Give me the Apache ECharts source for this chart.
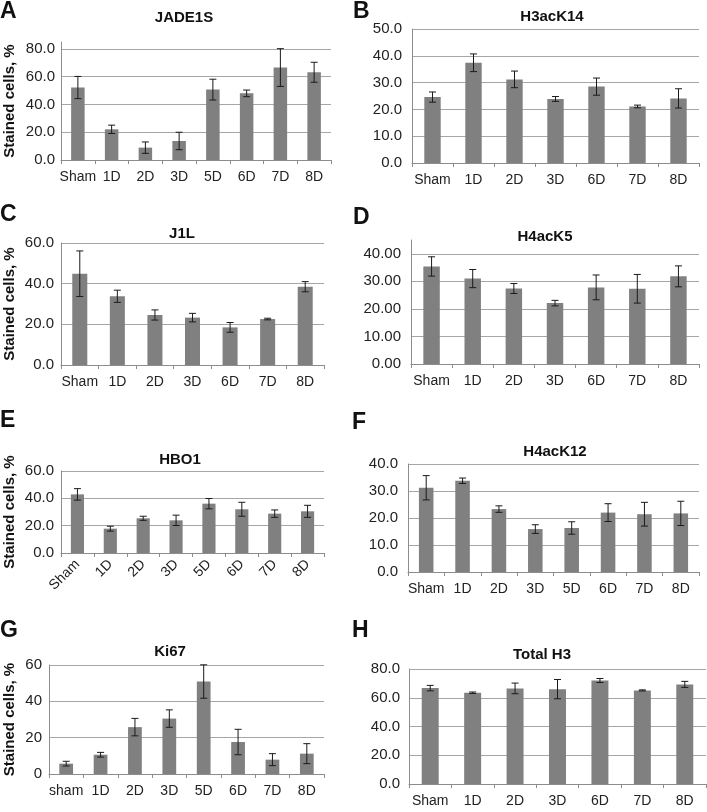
<!DOCTYPE html>
<html>
<head>
<meta charset="utf-8">
<script src="https://cdn.jsdelivr.net/npm/echarts@6/dist/echarts.min.js"></script>
<style>
html,body{margin:0;padding:0;background:#fff;}
#chart{width:707px;height:812px;}
</style>
</head>
<body>
<div id="chart"></div>
<script>
// ---------- data ----------
const catsA = ['Sham','1D','2D','3D','5D','6D','7D','8D'];
const meanA = [52.2, 22.1, 8.9, 13.7, 50.7, 48.0, 66.6, 63.2];
const errA  = [8.0, 3.0, 4.1, 6.3, 7.5, 2.4, 13.6, 7.2];
const ticksA = [0, 20, 40, 60, 80];

const catsB = ['Sham','1D','2D','3D','6D','7D','8D'];
const meanB = [24.6, 37.4, 31.2, 23.9, 28.5, 21.1, 24.1];
const errB  = [1.9, 3.3, 3.1, 0.9, 3.2, 0.5, 3.6];
const ticksB = [0, 10, 20, 30, 40, 50];

const catsC = ['Sham','1D','2D','3D','6D','7D','8D'];
const meanC = [44.9, 33.8, 24.6, 23.3, 18.5, 22.6, 38.5];
const errC  = [11.2, 3.0, 2.5, 2.1, 2.4, 0.4, 2.5];
const ticksC = [0, 20, 40, 60];

const catsD = ['Sham','1D','2D','3D','6D','7D','8D'];
const meanD = [35.4, 31.0, 27.4, 22.1, 27.8, 27.3, 31.8];
const errD  = [3.5, 3.3, 1.8, 1.0, 4.5, 5.2, 3.8];
const ticksD = [0, 10, 20, 30, 40];

const catsE = ['Sham','1D','2D','3D','5D','6D','7D','8D'];
const meanE = [42.9, 17.8, 25.4, 23.9, 36.1, 32.0, 28.8, 30.5];
const errE  = [4.2, 1.8, 1.5, 3.8, 3.8, 5.1, 2.7, 4.4];
const ticksE = [0, 20, 40, 60];

const catsF = ['Sham','1D','2D','3D','5D','6D','7D','8D'];
const meanF = [31.2, 33.8, 23.3, 15.9, 16.3, 22.0, 21.4, 21.7];
const errF  = [4.5, 1.0, 1.2, 1.6, 2.3, 3.3, 4.4, 4.5];
const ticksF = [0, 10, 20, 30, 40];

const catsG = ['sham','1D','2D','3D','5D','6D','7D','8D'];
const meanG = [5.7, 10.6, 25.8, 30.5, 50.9, 17.6, 7.9, 11.2];
const errG  = [1.3, 1.3, 4.8, 4.8, 9.2, 7.0, 3.3, 5.5];
const ticksG = [0, 20, 40, 60];

const catsH = ['Sham','1D','2D','3D','6D','7D','8D'];
const meanH = [66.7, 63.5, 66.5, 66.0, 72.0, 65.1, 69.3];
const errH  = [1.9, 0.5, 3.7, 6.7, 1.4, 0.4, 2.1];
const ticksH = [0, 20, 40, 60, 80];

const titles  = ['JADE1S','H3acK14','J1L','H4acK5','HBO1','H4acK12','Ki67','Total H3'];
const letters = ['A','B','C','D','E','F','G','H'];
const yName = 'Stained cells, %';

// ---------- layout ----------
const FONT = '"Liberation Sans", Arial, sans-serif';
const panels = [
  {cats:catsA, mean:meanA, err:errA, ticks:ticksA, max:85, dec:1, grid:{left:61, top:42, width:270, height:118}, lm:6, yname:true, gap:44, title:[184,18], letter:[0,0]},
  {cats:catsB, mean:meanB, err:errB, ticks:ticksB, dec:1, grid:{left:412, top:29, width:287, height:134}, lm:10, title:[552,17], letter:[353,0]},
  {cats:catsC, mean:meanC, err:errC, ticks:ticksC, dec:1, grid:{left:61, top:243, width:263, height:122}, lm:7, yname:true, gap:44, title:[182,234], letter:[0,203]},
  {cats:catsD, mean:meanD, err:errD, ticks:ticksD, max:45, dec:2, grid:{left:411, top:240, width:288, height:124}, lm:10, title:[545,237], letter:[353,206]},
  {cats:catsE, mean:meanE, err:errE, ticks:ticksE, dec:1, grid:{left:61, top:471, width:263, height:82}, lm:7, yname:true, gap:44, rot:45, title:[180,460], letter:[0,409]},
  {cats:catsF, mean:meanF, err:errF, ticks:ticksF, dec:1, grid:{left:408, top:464, width:291, height:108}, lm:10, title:[555,452], letter:[352,411]},
  {cats:catsG, mean:meanG, err:errG, ticks:ticksG, dec:0, grid:{left:49, top:665, width:275, height:109}, lm:7, yname:true, gap:32, title:[170,652], letter:[0,619]},
  {cats:catsH, mean:meanH, err:errH, ticks:ticksH, dec:1, grid:{left:409, top:669, width:297, height:115}, lm:9, title:[542,655], letter:[352,619]}
];

const grids = [], xAxes = [], yAxes = [], series = [], graphics = [];

function renderErr(params, api) {
  const i = api.value(0), v = api.value(1), e = api.value(2);
  const t = api.coord([i, v + e]);
  const b = api.coord([i, v - e]);
  const hw = 3.5;
  const st = {stroke:'#1a1a1a', lineWidth:1};
  return {type:'group', children:[
    {type:'line', shape:{x1:t[0], y1:t[1], x2:b[0], y2:b[1]}, style:st},
    {type:'line', shape:{x1:t[0]-hw, y1:t[1], x2:t[0]+hw, y2:t[1]}, style:st},
    {type:'line', shape:{x1:b[0]-hw, y1:b[1], x2:b[0]+hw, y2:b[1]}, style:st}
  ]};
}

panels.forEach((p, k) => {
  grids.push(Object.assign({outerBoundsMode:'none', containLabel:false}, p.grid));
  const interval = p.ticks[1] - p.ticks[0];
  const max = p.max !== undefined ? p.max : p.ticks[p.ticks.length - 1];
  xAxes.push({
    type:'category', gridIndex:k, data:p.cats, boundaryGap:true,
    axisLine:{show:true, lineStyle:{color:'#8c8c8c', width:1}},
    axisTick:{show:true, length:4, alignWithLabel:false, lineStyle:{color:'#8c8c8c'}},
    axisLabel:{color:'#222', fontSize:14, fontFamily:FONT, margin:p.rot ? 9 : 10, rotate:p.rot || 0, interval:0},
    splitLine:{show:false}
  });
  yAxes.push({
    type:'value', gridIndex:k, min:p.ticks[0], max:max, interval:interval,
    axisLine:{show:true, lineStyle:{color:'#8c8c8c', width:1}},
    axisTick:{show:false},
    axisLabel:{color:'#222', fontSize:15, fontFamily:FONT, margin:p.lm, showMaxLabel: p.max === undefined,
      formatter:(v) => v.toFixed(p.dec)},
    splitLine:{show:true, showMinLine:false, showMaxLine: p.max === undefined, lineStyle:{color:'#a6a6a6', width:1}},
    name: p.yname ? yName : '', nameLocation:'middle', nameRotate:90, nameGap:p.gap || 40,
    nameTextStyle:{color:'#111', fontSize:15, fontWeight:'bold', fontFamily:FONT}
  });
  series.push({
    type:'bar', xAxisIndex:k, yAxisIndex:k, data:p.mean, barWidth:'40%',
    itemStyle:{color:'#808080'}, silent:true, animation:false, z:2
  });
  series.push({
    type:'custom', xAxisIndex:k, yAxisIndex:k, renderItem:renderErr,
    data:p.mean.map((v, i) => [i, v, p.err[i]]), silent:true, animation:false, z:3
  });
  graphics.push({type:'text', z:10,
    style:{text:titles[k], x:p.title[0], y:p.title[1], align:'center', verticalAlign:'middle',
      font:'bold 15px ' + FONT, fill:'#111'}});
  graphics.push({type:'text', z:10,
    style:{text:letters[k], x:p.letter[0], y:p.letter[1], align:'left', verticalAlign:'top',
      font:'bold 23px ' + FONT, fill:'#111'}});
});

const chart = echarts.init(document.getElementById('chart'), null, {renderer:'canvas'});
chart.setOption({
  animation:false,
  backgroundColor:'#ffffff',
  grid:grids, xAxis:xAxes, yAxis:yAxes, series:series,
  graphic:{elements:graphics}
});
</script>
</body>
</html>
